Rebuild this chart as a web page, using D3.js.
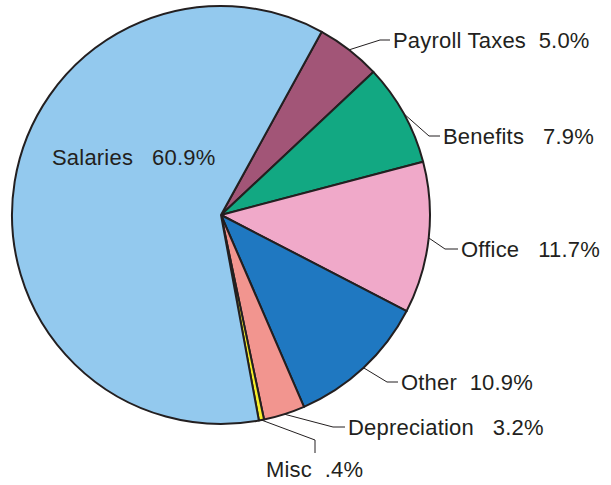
<!DOCTYPE html>
<html><head><meta charset="utf-8">
<script src="https://cdn.jsdelivr.net/npm/d3@7"></script>
<style>body{margin:0;background:#fff}svg text{font-family:"Liberation Sans",Arial,sans-serif;white-space:pre}</style>
</head><body><svg id="c" width="611" height="485"></svg>
<script>
const categories = ["Payroll Taxes","Benefits","Office","Other","Depreciation","Misc","Salaries"];
const values = [5.0, 7.9, 11.7, 10.9, 3.2, 0.4, 60.9];
const valueLabels = ["5.0%","7.9%","11.7%","10.9%","3.2%",".4%","60.9%"];
const colors = ["#a25577","#12a882","#f0a9c9","#1f78c1","#f2958f","#f7ef2a","#93c9ee"];
// label layout: elbow point, line end, text position
const layout = [
  {elbow:[380,40], end:[390,40], tx:393, ty:40, gap:"  "},
  {elbow:[429,136], end:[440,136], tx:443, ty:136, gap:"   "},
  {elbow:[445,249], end:[458,249], tx:461, ty:249, gap:"   "},
  {elbow:[387,382], end:[398,382], tx:401, ty:382, gap:"  "},
  {elbow:[333,427], end:[345,427], tx:348, ty:427, gap:"   "},
  {elbow:[315,440], end:[315,453], tx:266, ty:469, gap:"  "},
  {inside:true, tx:52, ty:157, gap:"   "}
];
const cx=221, cy=215, R=209;
const startDeg = 28.8;
const svg = d3.select("#c");
const g = svg.append("g").attr("transform",`translate(${cx},${cy})`);
const pie = d3.pie().sort(null).value(d=>d)
  .startAngle(startDeg*Math.PI/180).endAngle((startDeg+360)*Math.PI/180);
const arcs = pie(values);
const arc = d3.arc().innerRadius(0).outerRadius(R);
g.selectAll("path").data(arcs).join("path")
  .attr("d",arc).attr("fill",(d,i)=>colors[i])
  .attr("stroke","#231f20").attr("stroke-width",2).attr("stroke-linejoin","round");
const ink="#231f20";
arcs.forEach((a,i)=>{
  const L=layout[i];
  if(!L.inside){
    const m=(a.startAngle+a.endAngle)/2;
    const sx=cx+R*Math.sin(m), sy=cy-R*Math.cos(m);
    svg.append("polyline").attr("points",[[sx,sy],L.elbow,L.end].map(p=>p.join(",")).join(" "))
      .attr("fill","none").attr("stroke",ink).attr("stroke-width",1);
  }
  svg.append("text").attr("x",L.tx).attr("y",L.ty).attr("dy","0.35em")
    .attr("font-size",22).attr("letter-spacing",0.2).attr("fill",ink)
    .text(categories[i]+L.gap+valueLabels[i]);
});
</script></body></html>
